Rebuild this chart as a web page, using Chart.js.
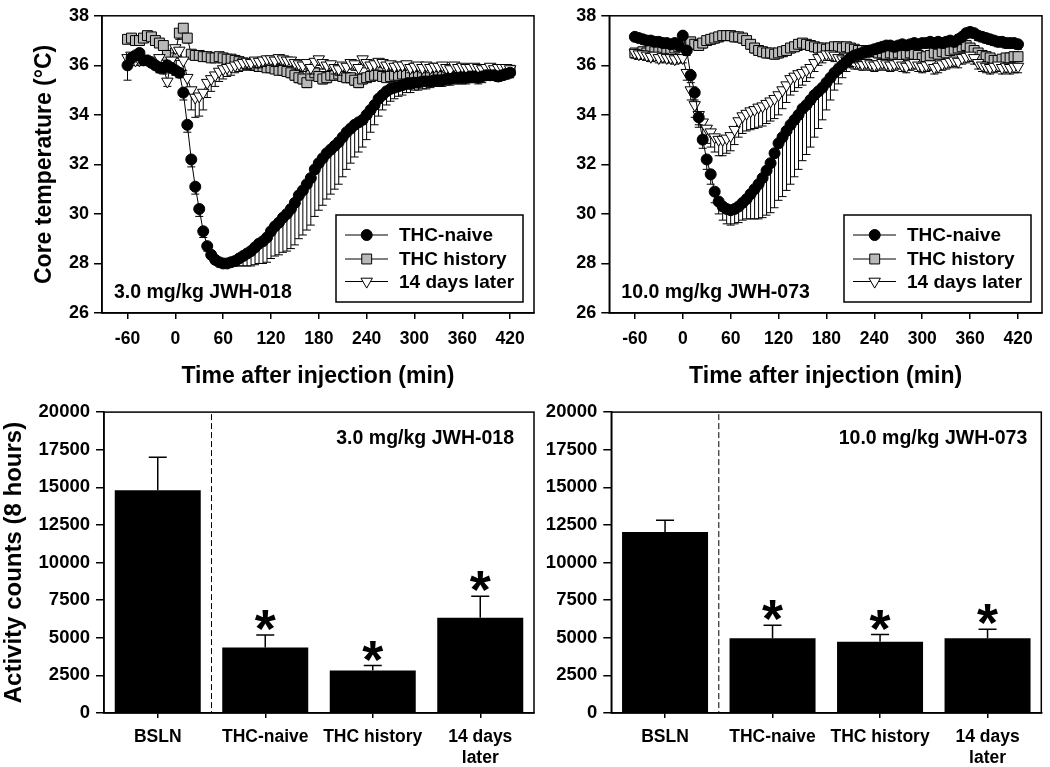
<!DOCTYPE html>
<html><head><meta charset="utf-8">
<script src="https://cdn.jsdelivr.net/npm/chart.js@4.4.0/dist/chart.umd.min.js"></script>
<style>
html,body{margin:0;padding:0;background:#fff;}
#wrap{position:relative;width:1050px;height:767px;overflow:hidden;background:#fff;}
canvas{position:absolute;}
</style></head><body>
<div id="wrap">
<canvas id="t18" width="545" height="395" style="left:0px;top:0px;width:545px;height:395px"></canvas>
<canvas id="t73" width="520" height="395" style="left:530px;top:0px;width:520px;height:395px"></canvas>
<canvas id="b18" width="545" height="372" style="left:0px;top:395px;width:545px;height:372px"></canvas>
<canvas id="b73" width="520" height="372" style="left:530px;top:395px;width:520px;height:372px"></canvas>
</div>
<script>
// ---------- DATA ----------
const TIME = [-60,-55,-50,-45,-40,-35,-30,-25,-20,-15,-10,-5,
  0,5,10,15,20,25,30,35,40,45,50,55,
  60,65,70,75,80,85,90,95,100,105,110,115,
  120,125,130,135,140,145,150,155,160,165,170,175,
  180,185,190,195,200,205,210,215,220,225,230,235,
  240,245,250,255,260,265,270,275,280,285,290,295,
  300,305,310,315,320,325,330,335,340,345,350,355,
  360,365,370,375,380,385,390,395,400,405,410,415,
  420];
const TIME_TICKS = [-60,0,60,120,180,240,300,360,420];
const SERIES_NAMES = ["THC-naive","THC history","14 days later"];

const JWH018_NAIVE = [36.0,36.3,36.4,36.5,36.2,36.2,36.1,36.0,35.9,35.9,36.0,35.9,
  35.8,35.7,34.9,33.6,32.2,31.1,30.2,29.3,28.7,28.35,28.15,28.05,
  28.0,28.0,28.05,28.1,28.2,28.3,28.4,28.5,28.65,28.8,28.9,29.05,
  29.3,29.5,29.65,29.85,30.0,30.2,30.45,30.75,30.95,31.2,31.45,31.8,
  32.05,32.25,32.45,32.6,32.75,32.9,33.1,33.3,33.45,33.6,33.7,33.8,
  34.0,34.2,34.4,34.65,34.8,34.95,35.05,35.1,35.15,35.2,35.25,35.25,
  35.3,35.3,35.35,35.35,35.35,35.4,35.4,35.4,35.45,35.45,35.5,35.5,
  35.5,35.5,35.55,35.55,35.5,35.55,35.6,35.6,35.6,35.55,35.6,35.65,
  35.7];
const JWH018_NAIVE_SEM = [0.6,0.2,0.2,0.2,0.2,0.15,0.15,0.15,0.2,0.2,0.2,0.2,
  0.2,0.2,0.3,0.3,0.3,0.3,0.3,0.25,0.2,0.15,0.1,0.1,
  0.1,0.1,0.15,0.2,0.3,0.4,0.5,0.6,0.7,0.8,0.9,1.0,
  1.1,1.2,1.3,1.4,1.5,1.6,1.7,1.75,1.8,1.85,1.9,1.9,
  1.9,1.9,1.85,1.8,1.75,1.7,1.6,1.5,1.4,1.3,1.2,1.1,
  1.0,0.9,0.8,0.7,0.6,0.55,0.5,0.45,0.4,0.4,0.35,0.35,
  0.3,0.3,0.3,0.3,0.25,0.25,0.25,0.25,0.25,0.25,0.25,0.25,
  0.25,0.25,0.25,0.25,0.25,0.25,0.2,0.2,0.2,0.2,0.2,0.2,
  0.2];
const JWH018_HIST = [37.05,37.1,37.0,37.0,37.1,37.2,37.15,37.0,36.9,36.8,36.4,36.0,
  36.5,37.3,37.5,37.1,36.45,36.4,36.4,36.35,36.35,36.3,36.3,36.35,
  36.3,36.25,36.25,36.2,36.15,36.1,36.05,36.05,36.0,35.95,35.95,35.9,
  35.9,35.85,35.8,35.8,35.75,35.7,35.6,35.5,35.45,35.3,35.6,35.7,
  35.55,35.45,35.5,35.6,35.6,35.65,35.55,35.5,35.5,35.4,35.3,35.45,
  35.5,35.55,35.6,35.6,35.55,35.5,35.55,35.6,35.6,35.65,35.65,35.7,
  35.7,35.7,35.65,35.7,35.7,35.75,35.7,35.7,35.75,35.75,35.7,35.75,
  35.75,35.75,35.8,35.75,35.75,35.8,35.8,35.75,35.8,35.8,35.8,35.8,
  35.8];
const JWH018_HIST_SEM = [0.15,0.15,0.1,0.1,0.15,0.15,0.1,0.1,0.15,0.2,0.3,0.3,
  0.3,0.25,0.2,0.2,0.15,0.15,0.15,0.1,0.1,0.1,0.1,0.1,
  0.15,0.15,0.15,0.15,0.15,0.15,0.15,0.15,0.15,0.15,0.15,0.15,
  0.15,0.15,0.15,0.2,0.2,0.2,0.2,0.2,0.2,0.2,0.2,0.2,
  0.2,0.2,0.2,0.2,0.2,0.2,0.2,0.2,0.2,0.2,0.2,0.2,
  0.15,0.15,0.15,0.15,0.15,0.15,0.15,0.15,0.15,0.15,0.15,0.15,
  0.15,0.15,0.15,0.15,0.15,0.15,0.15,0.15,0.15,0.15,0.15,0.15,
  0.15,0.15,0.15,0.15,0.15,0.15,0.15,0.15,0.15,0.15,0.15,0.15,
  0.15];
const JWH018_LATER = [36.3,36.4,36.2,36.2,36.25,36.2,36.2,36.1,36.3,35.9,35.35,36.2,
  36.7,36.6,36.2,35.5,35.0,34.7,34.75,34.9,35.3,35.45,35.6,35.75,
  35.85,35.9,35.95,36.0,36.05,36.1,36.15,36.1,36.2,36.15,36.2,36.25,
  36.25,36.2,36.3,36.25,36.2,36.2,36.1,36.05,36.0,36.1,35.9,36.15,
  36.25,36.1,36.0,36.05,35.9,35.85,36.0,35.95,36.1,36.05,35.9,36.25,
  36.1,36.0,36.05,36.15,36.1,36.0,36.05,35.95,36.0,36.0,36.05,35.9,
  35.95,36.0,35.9,36.0,35.9,35.95,35.95,36.0,35.9,35.85,36.0,35.9,
  35.95,35.9,35.9,35.95,35.9,35.85,35.9,35.95,35.85,35.9,35.9,35.9,
  35.85];
const JWH018_LATER_SEM = [0.3,0.2,0.2,0.2,0.2,0.2,0.2,0.2,0.2,0.25,0.2,0.2,
  0.2,0.3,0.4,0.6,0.8,0.8,0.8,0.7,0.6,0.5,0.45,0.4,
  0.4,0.35,0.35,0.3,0.3,0.3,0.3,0.3,0.3,0.25,0.25,0.25,
  0.25,0.25,0.25,0.25,0.25,0.25,0.25,0.25,0.25,0.25,0.25,0.25,
  0.25,0.25,0.25,0.25,0.25,0.25,0.25,0.25,0.25,0.25,0.25,0.25,
  0.2,0.2,0.2,0.2,0.2,0.2,0.2,0.2,0.2,0.2,0.2,0.2,
  0.2,0.2,0.2,0.2,0.2,0.2,0.2,0.2,0.2,0.2,0.2,0.2,
  0.2,0.2,0.2,0.2,0.2,0.2,0.2,0.2,0.2,0.2,0.2,0.2,
  0.2];

const JWH073_NAIVE = [37.15,37.1,37.05,37.0,37.0,36.95,36.95,36.9,36.9,36.85,36.9,36.8,
  37.2,36.6,35.6,34.9,33.9,33.0,32.2,31.6,30.9,30.5,30.3,30.2,
  30.15,30.2,30.3,30.45,30.6,30.8,31.0,31.2,31.45,31.75,32.05,32.45,
  32.85,33.1,33.35,33.6,33.8,34.0,34.25,34.4,34.6,34.8,34.95,35.1,
  35.3,35.5,35.7,35.85,36.0,36.15,36.3,36.4,36.45,36.5,36.55,36.6,
  36.65,36.7,36.75,36.8,36.8,36.75,36.8,36.85,36.8,36.85,36.9,36.85,
  36.9,36.9,36.95,36.9,36.95,36.9,36.95,37.0,36.95,37.05,37.15,37.3,
  37.35,37.3,37.2,37.15,37.1,37.05,37.0,36.95,36.95,36.9,36.9,36.9,
  36.85];
const JWH073_NAIVE_SEM = [0.15,0.15,0.15,0.15,0.15,0.15,0.15,0.15,0.15,0.15,0.15,0.15,
  0.15,0.2,0.3,0.3,0.3,0.35,0.4,0.4,0.45,0.5,0.55,0.6,
  0.6,0.6,0.65,0.7,0.8,1.0,1.2,1.4,1.6,1.8,2.0,2.2,
  2.3,2.4,2.4,2.4,2.3,2.2,2.1,2.0,1.9,1.7,1.5,1.3,
  1.1,0.9,0.7,0.6,0.5,0.4,0.35,0.3,0.3,0.25,0.25,0.25,
  0.2,0.2,0.2,0.2,0.2,0.2,0.2,0.2,0.2,0.2,0.2,0.2,
  0.2,0.2,0.2,0.2,0.2,0.2,0.2,0.2,0.2,0.2,0.2,0.2,
  0.2,0.2,0.2,0.2,0.2,0.2,0.2,0.2,0.2,0.2,0.2,0.2,
  0.2];
const JWH073_HIST = [36.5,36.45,36.55,36.5,36.6,36.55,36.6,36.6,36.65,36.6,36.7,36.75,
  36.85,36.9,36.95,36.85,36.8,36.9,37.0,37.05,37.1,37.15,37.2,37.2,
  37.2,37.15,37.15,37.1,37.0,36.85,36.7,36.6,36.55,36.5,36.5,36.45,
  36.5,36.55,36.6,36.7,36.75,36.85,36.9,36.85,36.8,36.75,36.7,36.7,
  36.65,36.7,36.75,36.75,36.7,36.75,36.7,36.65,36.6,36.6,36.55,36.6,
  36.55,36.5,36.5,36.45,36.5,36.45,36.5,36.4,36.45,36.5,36.45,36.4,
  36.3,36.35,36.4,36.5,36.45,36.55,36.5,36.6,36.65,36.7,36.75,36.8,
  36.7,36.6,36.5,36.4,36.35,36.3,36.2,36.2,36.25,36.3,36.3,36.35,
  36.35];
const JWH073_HIST_SEM = [0.2,0.2,0.2,0.2,0.2,0.2,0.2,0.2,0.2,0.2,0.2,0.2,
  0.2,0.2,0.2,0.2,0.2,0.2,0.2,0.2,0.2,0.2,0.2,0.2,
  0.2,0.2,0.2,0.2,0.2,0.2,0.2,0.2,0.2,0.2,0.2,0.2,
  0.2,0.2,0.2,0.2,0.2,0.25,0.25,0.2,0.2,0.2,0.2,0.2,
  0.2,0.2,0.2,0.2,0.2,0.2,0.2,0.2,0.2,0.2,0.2,0.2,
  0.2,0.2,0.2,0.2,0.2,0.2,0.2,0.2,0.2,0.2,0.2,0.2,
  0.2,0.2,0.2,0.2,0.2,0.2,0.2,0.2,0.2,0.2,0.2,0.2,
  0.2,0.2,0.2,0.2,0.2,0.2,0.2,0.2,0.2,0.2,0.2,0.2,
  0.2];
const JWH073_LATER = [36.5,36.45,36.45,36.4,36.35,36.4,36.3,36.35,36.3,36.3,36.25,36.3,
  36.3,35.7,35.0,34.4,34.0,33.7,33.45,33.3,33.1,33.0,33.0,33.05,
  33.15,33.4,33.75,33.95,34.05,34.15,34.2,34.3,34.35,34.45,34.55,34.65,
  34.8,35.0,35.2,35.45,35.55,35.65,35.7,35.8,35.9,36.1,36.3,36.4,
  36.45,36.45,36.4,36.3,36.25,36.2,36.15,36.1,36.1,36.05,36.1,36.05,
  36.0,36.05,36.1,36.05,36.0,36.05,36.1,36.0,35.95,36.05,36.1,36.0,
  35.95,36.0,36.05,35.9,35.95,36.05,36.1,36.15,36.2,36.15,36.3,36.35,
  36.4,36.3,36.1,36.0,35.95,35.9,35.95,36.0,35.9,35.95,35.9,35.95,
  35.95];
const JWH073_LATER_SEM = [0.2,0.2,0.2,0.2,0.2,0.2,0.2,0.2,0.2,0.2,0.2,0.2,
  0.2,0.3,0.4,0.5,0.5,0.55,0.6,0.6,0.6,0.65,0.65,0.6,
  0.6,0.6,0.65,0.7,0.7,0.75,0.75,0.8,0.8,0.8,0.8,0.8,
  0.8,0.75,0.7,0.65,0.6,0.55,0.5,0.45,0.4,0.35,0.3,0.3,
  0.25,0.25,0.25,0.25,0.25,0.25,0.25,0.25,0.25,0.25,0.25,0.25,
  0.25,0.25,0.25,0.25,0.25,0.25,0.25,0.25,0.25,0.25,0.25,0.25,
  0.25,0.25,0.25,0.25,0.25,0.25,0.25,0.25,0.25,0.25,0.25,0.25,
  0.25,0.25,0.25,0.25,0.25,0.25,0.25,0.25,0.25,0.25,0.25,0.25,
  0.25];

const BAR_CATS = ["BSLN","THC-naive","THC history",["14 days","later"]];
const ACT_JWH018 = [14800,4350,2820,6330];
const ACT_JWH018_SEM = [2200,840,330,1430];
const ACT_JWH073 = [12030,4970,4730,4970];
const ACT_JWH073_SEM = [780,870,480,600];
const SIGNIFICANT = [false,true,true,true];
const COUNT_TICKS = [0,2500,5000,7500,10000,12500,15000,17500,20000];
const TEMP_TICKS = [26,28,30,32,34,36,38];

// ---------- STYLE / PLUGINS ----------
const F = "'Liberation Sans', Arial, Helvetica, sans-serif";
Chart.defaults.font.family = F;
Chart.defaults.color = '#000';

const framePlugin = {
  id: 'frame',
  afterDraw(chart) {
    const {ctx, chartArea: a} = chart;
    ctx.save();
    ctx.strokeStyle = '#000'; ctx.lineWidth = 1.5;
    ctx.strokeRect(a.left, a.top, a.right - a.left, a.bottom - a.top);
    ctx.restore();
  }
};

const semPlugin = {
  id: 'semBars',
  beforeDatasetDraw(chart, args) {
    const ds = chart.data.datasets[args.index];
    if (!ds.sem) return;
    const y = chart.scales.y, ctx = chart.ctx;
    ctx.save();
    ctx.strokeStyle = '#000'; ctx.lineWidth = 1;
    args.meta.data.forEach((pt, i) => {
      const v = ds.data[i].y;
      const y0 = y.getPixelForValue(v), y1 = y.getPixelForValue(v - ds.sem[i]);
      ctx.beginPath();
      ctx.moveTo(pt.x, y0); ctx.lineTo(pt.x, y1);
      ctx.moveTo(pt.x - 4, y1); ctx.lineTo(pt.x + 4, y1);
      ctx.stroke();
    });
    ctx.restore();
  }
};

const legendPlugin = {
  id: 'boxLegend',
  afterDatasetsDraw(chart) {
    const {ctx, chartArea: a} = chart;
    const x0 = a.right - 198, y0 = a.bottom - 98, w = 187, h = 87;
    ctx.save();
    ctx.fillStyle = '#fff'; ctx.fillRect(x0, y0, w, h);
    ctx.strokeStyle = '#000'; ctx.lineWidth = 1.5; ctx.strokeRect(x0, y0, w, h);
    const rows = [20, 44, 66.5];
    chart.data.datasets.forEach((ds, i) => {
      const y = y0 + rows[i];
      ctx.strokeStyle = '#000'; ctx.lineWidth = 1;
      ctx.beginPath(); ctx.moveTo(x0 + 9, y); ctx.lineTo(x0 + 52, y); ctx.stroke();
      ctx.fillStyle = ds.pointBackgroundColor;
      ctx.strokeStyle = '#000'; ctx.lineWidth = 1;
      Chart.helpers.drawPoint(ctx, {pointStyle: ds.pointStyle, radius: ds.pointRadius, rotation: ds.pointRotation || 0, borderWidth: 1}, x0 + 30.7, y);
      ctx.fillStyle = '#000';
      ctx.font = 'bold 19px ' + F;
      ctx.textBaseline = 'middle'; ctx.textAlign = 'left';
      ctx.fillText(ds.label, x0 + 63, y + 1);
    });
    ctx.restore();
  }
};

const panelLabelPlugin = {
  id: 'panelLabel',
  afterDatasetsDraw(chart, args, opts) {
    if (!opts || !opts.text) return;
    const {ctx, chartArea: a} = chart;
    ctx.save();
    ctx.fillStyle = '#000';
    ctx.font = 'bold ' + opts.size + 'px ' + F;
    ctx.textBaseline = 'middle';
    ctx.textAlign = opts.align;
    const x = opts.align === 'left' ? a.left + opts.dx : a.right - opts.dx;
    const y = opts.fromBottom ? a.bottom - opts.dy : a.top + opts.dy;
    ctx.fillText(opts.text, x, y);
    ctx.restore();
  }
};

const barExtrasPlugin = {
  id: 'barExtras',
  afterDatasetsDraw(chart) {
    const {ctx, chartArea: a} = chart;
    const meta = chart.getDatasetMeta(0);
    const ds = chart.data.datasets[0];
    const y = chart.scales.y;
    ctx.save();
    // divider between baseline and treatment groups
    const xd = (meta.data[0].x + meta.data[1].x) / 2;
    ctx.strokeStyle = '#000'; ctx.lineWidth = 1; ctx.setLineDash([6, 3]);
    ctx.beginPath(); ctx.moveTo(xd, a.top + 2); ctx.lineTo(xd, a.bottom); ctx.stroke();
    ctx.setLineDash([]);
    // SEM bars and significance stars
    meta.data.forEach((bar, i) => {
      const top = y.getPixelForValue(ds.data[i]);
      const et = y.getPixelForValue(ds.data[i] + ds.sem[i]);
      ctx.lineWidth = 1.5;
      ctx.beginPath();
      ctx.moveTo(bar.x, top); ctx.lineTo(bar.x, et);
      ctx.moveTo(bar.x - 9, et); ctx.lineTo(bar.x + 9, et);
      ctx.stroke();
      if (ds.sig[i]) {
        ctx.font = 'bold 54px ' + F;
        ctx.textAlign = 'center'; ctx.textBaseline = 'alphabetic';
        ctx.fillStyle = '#000';
        ctx.fillText('*', bar.x, et + 12);
      }
    });
    ctx.restore();
  }
};

function tempChart(id, naive, naiveSem, hist, histSem, later, laterSem, lay, label, showTitle) {
  const pts = arr => TIME.map((t, i) => ({x: t, y: arr[i]}));
  const common = {showLine: true, borderColor: '#000', borderWidth: 1, pointBorderColor: '#000', pointBorderWidth: 1, pointHoverRadius: 0};
  return new Chart(document.getElementById(id), {
    type: 'scatter',
    data: {datasets: [
      Object.assign({label: SERIES_NAMES[0], data: pts(naive), sem: naiveSem, pointStyle: 'circle', pointRadius: 5.5, pointBackgroundColor: '#000', order: 0}, common),
      Object.assign({label: SERIES_NAMES[1], data: pts(hist), sem: histSem, pointStyle: 'rect', pointRadius: 7, pointBackgroundColor: '#b9b9b9', order: 2}, common),
      Object.assign({label: SERIES_NAMES[2], data: pts(later), sem: laterSem, pointStyle: 'triangle', pointRotation: 180, pointRadius: 6.6, pointBackgroundColor: '#fff', order: 1}, common)
    ]},
    options: {
      responsive: false, animation: false, devicePixelRatio: 1,
      layout: {padding: {left: 0, top: 12, right: lay.right, bottom: 0}},
      plugins: {legend: {display: false}, tooltip: {enabled: false},
        panelLabel: {text: label, size: 19.5, align: 'left', dx: 12, dy: 20, fromBottom: true}},
      scales: {
        x: {type: 'linear', min: -92, max: 450,
          afterBuildTicks: s => { s.ticks = TIME_TICKS.map(v => ({value: v})); },
          afterFit: s => { s.height = 82; },
          grid: {drawOnChartArea: false, drawTicks: true, tickLength: 6, color: '#000', lineWidth: 1.5},
          border: {color: '#000', width: 1.5},
          ticks: {font: {size: 17.5, weight: 'bold'}, color: '#000', padding: 10, maxRotation: 0, autoSkip: false, callback: v => String(v)},
          title: {display: true, text: 'Time after injection (min)', font: {size: 23, weight: 'bold'}, color: '#000', padding: {top: 0, bottom: 5}}
        },
        y: {type: 'linear', min: 26, max: 38,
          afterBuildTicks: s => { s.ticks = TEMP_TICKS.map(v => ({value: v})); },
          afterFit: s => { s.width = lay.yw; },
          grid: {drawOnChartArea: false, drawTicks: true, tickLength: 8, color: '#000', lineWidth: 1.5},
          border: {color: '#000', width: 1.5},
          ticks: {font: {size: 18, weight: 'bold'}, color: '#000', padding: 5, callback: v => String(v)},
          title: {display: showTitle, text: 'Core temperature (°C)', font: {size: 23, weight: 'bold'}, color: '#000', padding: {top: 31, bottom: 0}}
        }
      }
    },
    plugins: [semPlugin, framePlugin, legendPlugin, panelLabelPlugin]
  });
}

function barChart(id, vals, sem, lay, label, showTitle) {
  return new Chart(document.getElementById(id), {
    type: 'bar',
    data: {labels: BAR_CATS, datasets: [{data: vals, sem: sem, sig: SIGNIFICANT, backgroundColor: '#000', borderWidth: 0, barPercentage: 0.8, categoryPercentage: 1.0}]},
    options: {
      responsive: false, animation: false, devicePixelRatio: 1,
      layout: {padding: {left: 0, top: 16, right: lay.right, bottom: 0}},
      plugins: {legend: {display: false}, tooltip: {enabled: false},
        panelLabel: {text: label, size: 19.5, align: 'right', dx: lay.labelDx, dy: 27, fromBottom: false}},
      scales: {
        x: {type: 'category',
          afterFit: s => { s.height = 54; },
          grid: {drawOnChartArea: false, drawTicks: true, tickLength: 5, offset: false, color: '#000', lineWidth: 1.5},
          border: {color: '#000', width: 1.5},
          ticks: {font: {size: 17.5, weight: 'bold'}, color: '#000', padding: 9, maxRotation: 0, autoSkip: false}
        },
        y: {type: 'linear', min: 0, max: 20000,
          afterBuildTicks: s => { s.ticks = COUNT_TICKS.map(v => ({value: v})); },
          afterFit: s => { s.width = lay.yw; },
          grid: {drawOnChartArea: false, drawTicks: true, tickLength: 8, color: '#000', lineWidth: 1.5},
          border: {color: '#000', width: 1.5},
          ticks: {font: {size: 18.5, weight: 'bold'}, color: '#000', padding: 6, callback: v => String(v)},
          title: {display: showTitle, text: 'Activity counts (8 hours)', font: {size: 24, weight: 'bold'}, color: '#000', padding: {top: 0, bottom: 0}}
        }
      }
    },
    plugins: [framePlugin, barExtrasPlugin, panelLabelPlugin]
  });
}

tempChart('t18', JWH018_NAIVE, JWH018_NAIVE_SEM, JWH018_HIST, JWH018_HIST_SEM, JWH018_LATER, JWH018_LATER_SEM, {right: 11, yw: 102}, '3.0 mg/kg JWH-018', true);
tempChart('t73', JWH073_NAIVE, JWH073_NAIVE_SEM, JWH073_HIST, JWH073_HIST_SEM, JWH073_LATER, JWH073_LATER_SEM, {right: 7.3, yw: 79.3}, '10.0 mg/kg JWH-073', false);
barChart('b18', ACT_JWH018, ACT_JWH018_SEM, {right: 11, yw: 104, labelDx: 20}, '3.0 mg/kg JWH-018', true);
barChart('b73', ACT_JWH073, ACT_JWH073_SEM, {right: 8.7, yw: 81.3, labelDx: 14}, '10.0 mg/kg JWH-073', false);
</script>
</body></html>
